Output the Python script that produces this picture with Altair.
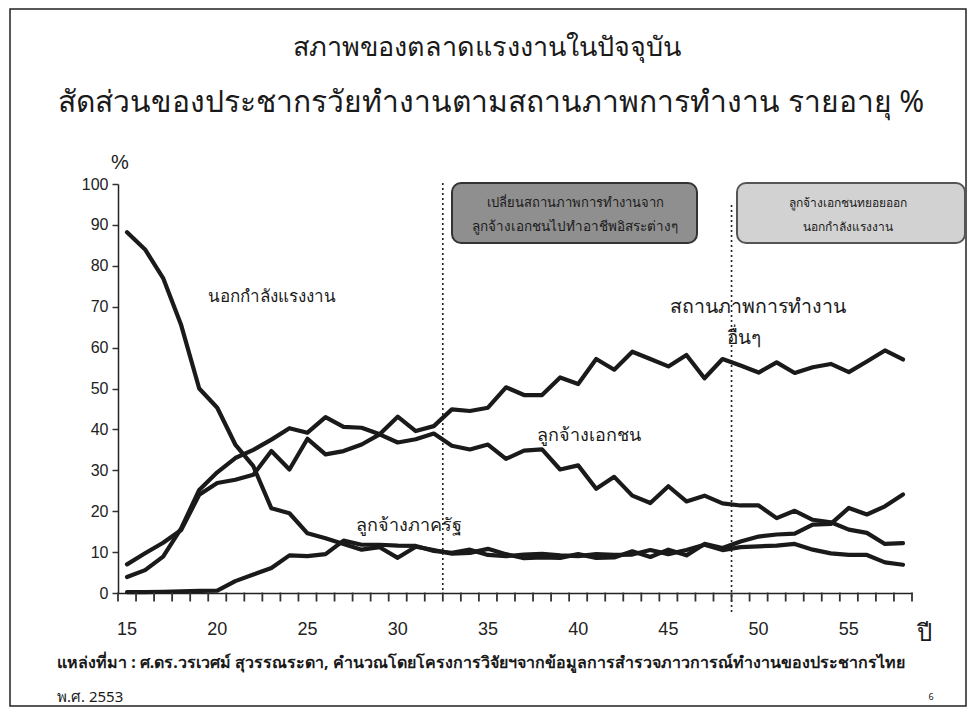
import altair as alt
import pandas as pd

years = list(range(15, 59))

out_lf = [88.2, 84.0, 77.0, 65.5, 50.0, 45.3, 36.3, 31.0, 20.7, 19.5,
          14.6, 13.4, 12.0, 10.6, 11.2, 8.6, 11.3, 10.5, 9.6, 9.8,
          10.8, 9.5, 8.5, 8.7, 8.6, 9.5, 8.6, 8.7, 10.2, 8.8,
          10.6, 9.2, 12.0, 11.0, 12.6, 13.8, 14.3, 14.5, 16.7, 16.9,
          20.8, 19.2, 21.2, 24.1]
private = [3.9, 5.6, 8.9, 15.8, 25.2, 29.5, 33.0, 35.0, 37.5, 40.3,
           39.2, 43.0, 40.6, 40.4, 38.8, 36.8, 37.6, 39.0, 36.0, 35.1,
           36.3, 32.8, 34.8, 35.1, 30.2, 31.2, 25.5, 28.4, 23.8, 22.0,
           26.1, 22.4, 23.8, 21.9, 21.4, 21.4, 18.3, 20.1, 17.9, 17.3,
           15.5, 14.7, 12.0, 12.2]
other = [7.0, 9.7, 12.3, 15.4, 24.0, 26.9, 27.7, 28.9, 34.7, 30.2,
         37.7, 33.9, 34.7, 36.3, 38.8, 43.1, 39.6, 40.8, 44.9, 44.5,
         45.3, 50.3, 48.4, 48.4, 52.7, 51.1, 57.2, 54.6, 59.0, 57.2,
         55.4, 58.2, 52.5, 57.2, 55.6, 53.9, 56.4, 53.8, 55.2, 56.0,
         54.0, 56.6, 59.3, 57.1]
gov = [0.2, 0.2, 0.3, 0.4, 0.5, 0.6, 2.9, 4.5, 6.1, 9.2,
       9.0, 9.5, 12.8, 11.8, 11.8, 11.6, 11.5, 10.3, 9.8, 10.6,
       9.3, 9.0, 9.4, 9.6, 9.2, 9.0, 9.5, 9.3, 9.4, 10.5,
       9.5, 10.5, 11.8, 10.5, 11.2, 11.4, 11.6, 12.0, 10.6, 9.7,
       9.3, 9.3, 7.5, 6.9]

series_names = ["นอกกำลังแรงงาน", "ลูกจ้างเอกชน", "สถานภาพการทำงานอื่นๆ", "ลูกจ้างภาครัฐ"]
series_vals = [out_lf, private, other, gov]

x_tick_labels = [15, 20, 25, 30, 35, 40, 45, 50, 55]
x_tick_bounds = [14.5 + i for i in range(45)]
y_ticks = list(range(0, 101, 10))

rows = []
for name, vals in zip(series_names, series_vals):
    for yr, v in zip(years, vals):
        rows.append({"age": yr, "pct": v, "status": name})
df = pd.DataFrame(rows)

title1 = "สภาพของตลาดแรงงานในปัจจุบัน"
title2 = "สัดส่วนของประชากรวัยทำงานตามสถานภาพการทำงาน รายอายุ %"
box1_lines = ["เปลี่ยนสถานภาพการทำงานจาก", "ลูกจ้างเอกชนไปทำอาชีพอิสระต่างๆ"]
box2_lines = ["ลูกจ้างเอกชนทยอยออก", "นอกกำลังแรงงาน"]
source_text = "แหล่งที่มา : ศ.ดร.วรเวศม์  สุวรรณระดา, คำนวณโดยโครงการวิจัยฯจากข้อมูลการสำรวจภาวการณ์ทำงานของประชากรไทย"
year_text = "พ.ศ. 2553"
divider_ages = [32.5, 48.5]

W, H = 794, 409
FONT = "Noto Sans"

x_scale = alt.Scale(domain=[14.5, 58.5], nice=False, zero=False)
y_scale = alt.Scale(domain=[0, 100], nice=False)

x_axis = alt.Axis(
    values=x_tick_bounds, labels=False, ticks=False,
    domainColor="#222", domainWidth=1.5, grid=False, title=None,
)
y_axis = alt.Axis(
    values=y_ticks, labelFontSize=16, labelColor="#222",
    labelFont="Liberation Sans", labelPadding=4, tickSize=6, tickWidth=1.5, tickColor="#333",
    domainColor="#222", domainWidth=1.5, grid=False, title=None,
)

lines = alt.Chart(df).mark_line(color="#1a1a1a", strokeWidth=4.2, strokeJoin="round", strokeCap="round").encode(
    x=alt.X("age:Q", scale=x_scale, axis=x_axis),
    y=alt.Y("pct:Q", scale=y_scale, axis=y_axis),
    detail="status:N",
)

# x tick marks at category boundaries (through the x scale)
tick_df = pd.DataFrame({"age": x_tick_bounds})
xticks = alt.Chart(tick_df).mark_tick(
    color="#333333", thickness=1.8, size=9, orient="vertical", opacity=1
).encode(
    x=alt.X("age:Q", scale=x_scale, axis=x_axis),
    y=alt.value(H + 4),
)

xlab = alt.Chart(pd.DataFrame({"age": x_tick_labels})).mark_text(
    fontSize=18, color="#222", font="Liberation Sans", baseline="middle"
).encode(
    x=alt.X("age:Q", scale=x_scale, axis=x_axis),
    y=alt.value(H + 37),
    text=alt.Text("age:Q", format="d"),
)

div_df = pd.DataFrame({"age": divider_ages, "top": [-1, 21], "bot": [H, H + 19]})
dividers = alt.Chart(div_df).mark_rule(color="#222", strokeWidth=1.6, strokeDash=[2, 3]).encode(
    x=alt.X("age:Q", scale=x_scale, axis=x_axis),
    y=alt.Y("top:Q", scale=None),
    y2=alt.Y2("bot:Q"),
)

one = pd.DataFrame({"a": [0]})
frame = alt.Chart(one).mark_rect(fill="transparent", stroke="#222", strokeWidth=1.5).encode(
    x=alt.value(-108), x2=alt.value(W + 54), y=alt.value(-175), y2=alt.value(H + 113)
)

box1 = alt.Chart(one).mark_rect(
    fill="#8f8f8f", stroke="#333", strokeWidth=2, cornerRadius=9
).encode(x=alt.value(334), x2=alt.value(579), y=alt.value(-1), y2=alt.value(59))
box2 = alt.Chart(one).mark_rect(
    fill="#d2d2d2", stroke="#555", strokeWidth=2, cornerRadius=9
).encode(x=alt.value(619), x2=alt.value(847), y=alt.value(-1), y2=alt.value(59))


def txt(text, x, y, size, align="center", weight="normal", color="#1a1a1a", font=FONT):
    return alt.Chart(pd.DataFrame({"t": [text]})).mark_text(
        align=align, baseline="middle", fontSize=size, fontWeight=weight, color=color, font=font
    ).encode(text="t:N", x=alt.value(x), y=alt.value(y))


texts = [
    txt(title1, 369, -136, 27),
    txt(title2, 373, -81, 30),
    txt("%", 2, -21, 20, font="Liberation Sans"),
    txt(box1_lines[0], 457, 19, 13),
    txt(box1_lines[1], 457, 43, 13.5),
    txt(box2_lines[0], 730, 19, 12),
    txt(box2_lines[1], 730, 43, 12),
    txt("นอกกำลังแรงงาน", 154, 113, 17),
    txt("สถานภาพการทำงาน", 552, 123, 19.5, align="left"),
    txt("อื่นๆ", 609, 154, 19, align="left"),
    txt("ลูกจ้างเอกชน", 419, 252, 18, align="left"),
    txt("ลูกจ้างภาครัฐ", 238, 342, 18, align="left"),
    txt("ปี", 806, 450, 24),
    txt(source_text, -61, 479, 16, align="left", weight="bold"),
    txt(year_text, -61, 513, 15, align="left"),
    txt("6", 813, 513, 9),
]

chart = alt.layer(frame, box1, box2, dividers, lines, xticks, xlab, *texts).properties(
    width=W, height=H,
    autosize=alt.AutoSizeParams(type="none"),
    padding={"left": 110, "top": 176, "right": 55, "bottom": 115},
    background="white",
).configure_view(strokeWidth=0)

chart.save("out.html", embed_options={"renderer": "svg", "actions": False})
